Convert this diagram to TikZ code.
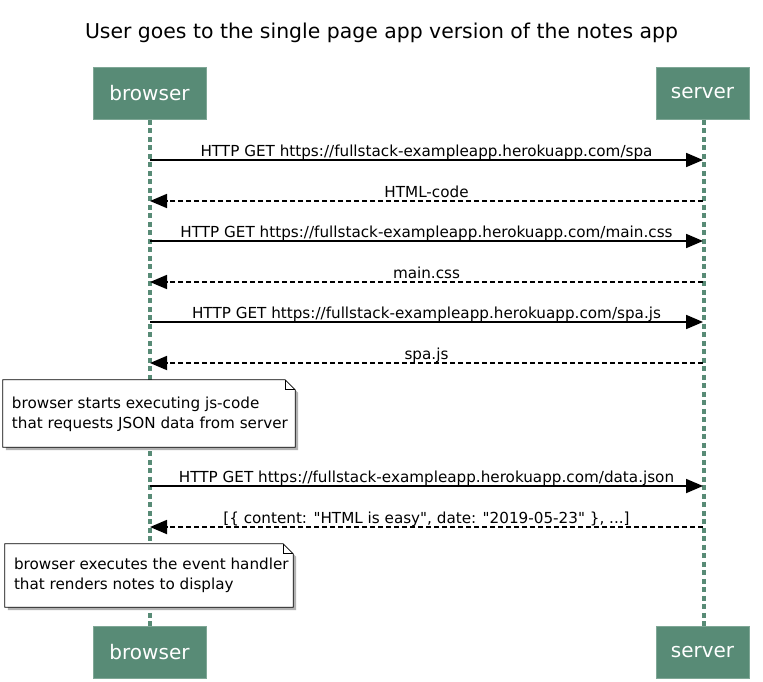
\documentclass[tikz,border=0pt]{standalone}
\usepackage{fontspec}
\setmainfont{DejaVu Sans}
\usetikzlibrary{arrows.meta,calc}
\definecolor{pgreen}{HTML}{588B76}
\definecolor{pgreenb}{HTML}{7FA796}
\begin{document}
\begin{tikzpicture}[x=1pt,y=-1pt,
  participant/.style={draw=pgreenb, line width=0.8pt, fill=pgreen, text=white, minimum height=52pt, inner sep=0pt, font=\fontsize{20}{22}\selectfont},
  lifeline/.style={draw=pgreen, line width=3.3pt, dash pattern=on 5pt off 3.5pt},
  msg/.style={line width=1.8pt, -{Triangle[length=17pt,width=14pt]}},
  reply/.style={msg, dash pattern=on 5pt off 3pt},
  lbl/.style={anchor=base, yshift=3.5pt, font=\fontsize{15.2}{17}\selectfont, inner sep=0pt},
  notebox/.style={inner xsep=8pt, inner ysep=0pt, align=left, font=\fontsize{15.2}{20.5}\selectfont},
]
\useasboundingbox (0,0) rectangle (763,682);
\fill[white] (0,0) rectangle (763,682);

\node[font=\fontsize{20.4}{24}\selectfont] (title) at (381.5,33) {User goes to the single page app version of the notes app};

\node[participant, minimum width=113pt] (bt) at (149.5,93.5) {browser};
\node[participant, minimum width=93pt] (st) at (702.5,93.5) {server};
\node[participant, minimum width=113pt] (bb) at (149.5,652) {browser};
\node[participant, minimum width=93pt] (sb) at (702.5,652) {server};

\draw[lifeline] ($(bt.south)+(0.5,0)$) -- ($(bb.north)+(0.5,0)$);
\draw[lifeline] ($(st.south)+(1.5,0)$) -- ($(sb.north)+(1.5,0)$);

\foreach \i/\yy in {1/160,2/201,3/241,4/282,5/322,6/363,7/486,8/527}{
  \coordinate (b\i) at (150,\yy);
  \coordinate (s\i) at (703,\yy);
}

\draw[msg] (b1) -- node[lbl]{HTTP GET https://fullstack-exampleapp.herokuapp.com/spa} (s1);
\draw[reply] (s2) -- node[lbl]{HTML-code} (b2);
\draw[msg] (b3) -- node[lbl]{HTTP GET https://fullstack-exampleapp.herokuapp.com/main.css} (s3);
\draw[reply] (s4) -- node[lbl]{main.css} (b4);
\draw[msg] (b5) -- node[lbl]{HTTP GET https://fullstack-exampleapp.herokuapp.com/spa.js} (s5);
\draw[reply] (s6) -- node[lbl]{spa.js} (b6);
\draw[msg] (b7) -- node[lbl]{HTTP GET https://fullstack-exampleapp.herokuapp.com/data.json} (s7);
\draw[reply] (s8) -- node[lbl]{[\{ content: \textquotedbl HTML is easy\textquotedbl, date: \textquotedbl 2019-05-23\textquotedbl\ \}, ...]} (b8);

% note frames (named, invisible)
\node[minimum width=292pt, minimum height=67pt, inner sep=0pt] (n1) at (149,413.5) {};
\node[minimum width=288pt, minimum height=63pt, inner sep=0pt] (n2) at (149,575.5) {};

\foreach \n in {n1,n2}{
  \fill[black!30] ($(\n.north west)+(3,3)$) -- ($(\n.north east)+(-7,3)$) -- ($(\n.north east)+(3,13)$) -- ($(\n.south east)+(3,3)$) -- ($(\n.south west)+(3,3)$) -- cycle;
  \draw[fill=white, line width=0.8pt] (\n.north west) -- ($(\n.north east)+(-10,0)$) -- ($(\n.north east)+(0,10)$) -- (\n.south east) -- (\n.south west) -- cycle;
  \draw[line width=0.8pt] ($(\n.north east)+(-10,0)$) -- ($(\n.north east)+(-10,10)$) -- ($(\n.north east)+(0,10)$);
}
\node[notebox, anchor=west] (t1) at ($(n1.west)+(1,1)$) {browser starts executing js-code\\that requests JSON data from server};
\node[notebox, anchor=west] (t2) at ($(n2.west)+(1,0)$) {browser executes the event handler\\that renders notes to display};
\end{tikzpicture}
\end{document}
